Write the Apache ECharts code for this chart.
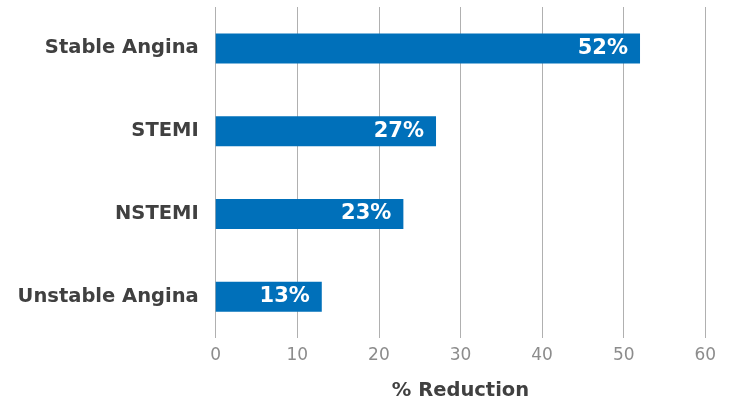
<!DOCTYPE html>
<html><head><meta charset="utf-8">
<script src="https://cdn.jsdelivr.net/npm/echarts@6/dist/echarts.min.js"></script>
<style>html,body{margin:0;padding:0;background:#fff}#c{width:733px;height:403px}</style>
</head><body><div id="c"></div>
<script>
const categories = ["Unstable Angina", "NSTEMI", "STEMI", "Stable Angina"];
const values = [13, 23, 27, 52];
const xTicks = [0, 10, 20, 30, 40, 50, 60];
const axisTitle = "% Reduction";

const chart = echarts.init(document.getElementById('c'));
chart.setOption({
  animation: false,
  grid: {left: 215.7, right: 27.7, top: 7, height: 331, containLabel: false, outerBoundsMode: 'none'},
  xAxis: {
    type: 'value', min: xTicks[0], max: xTicks[xTicks.length-1], interval: 10,
    name: axisTitle, nameLocation: 'middle', nameGap: 43,
    nameTextStyle: {fontFamily: 'DejaVu Sans', fontWeight: 'bold', fontSize: 19.5, color: '#404040'},
    axisLine: {show: false}, axisTick: {show: false},
    axisLabel: {fontFamily: 'DejaVu Sans', fontSize: 17, color: '#8c8c8c', margin: 9},
    splitLine: {show: true, lineStyle: {color: '#b0b0b0', width: 1}}
  },
  yAxis: {
    type: 'category', data: categories,
    axisLine: {show: false}, axisTick: {show: false},
    axisLabel: {fontFamily: 'DejaVu Sans', fontWeight: 'bold', fontSize: 19.5, color: '#404040', margin: 17}
  },
  series: [{
    type: 'bar', data: values, barWidth: 30,
    itemStyle: {color: '#0070BA'},
    label: {show: true, position: 'insideRight', formatter: '{c}%', color: '#fff',
      fontFamily: 'DejaVu Sans', fontWeight: 'bold', fontSize: 21, distance: 12}
  }]
});
</script></body></html>
